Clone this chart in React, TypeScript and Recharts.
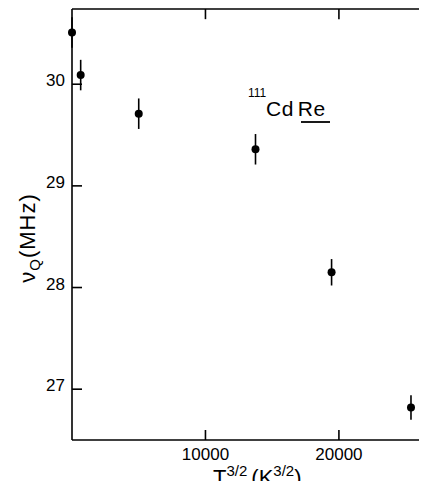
import { ScatterChart, Scatter, XAxis, YAxis, ErrorBar, ReferenceLine } from 'recharts'

const tempX = [0, 650, 5000, 13750, 19450, 25400]
const nuQ = [30.51, 30.09, 29.71, 29.36, 28.15, 26.82]
const nuErr = [0.15, 0.15, 0.15, 0.15, 0.13, 0.12]
const xTicks = [10000, 20000]
const yTicks = [27, 28, 29, 30]

const points = tempX.map((x, i) => ({ x, y: nuQ[i], err: nuErr[i] }))

const FONT = '"Liberation Sans", Arial, sans-serif'
const INK = '#000'
const X_MIN = 0
const X_MAX = 26600
const Y_MIN = 26.5
const Y_MAX = 30.74
const axisStroke = { stroke: INK, strokeWidth: 1.6 }

// inward tick marks, labels outside
function BottomTick({ x, y, payload }: any) {
  return (
    <g>
      <line x1={x} x2={x} y1={y} y2={y - 10} stroke={INK} strokeWidth={1.6} />
      <text x={x} y={y + 20} textAnchor="middle" fontSize={17} fontFamily={FONT} fill={INK}>
        {payload.value}
      </text>
    </g>
  )
}

function LeftTick({ x, y, payload }: any) {
  return (
    <g>
      <line x1={x} x2={x + 10} y1={y} y2={y} stroke={INK} strokeWidth={1.6} />
      <text x={x - 7} y={y + 2} textAnchor="end" fontSize={17} fontFamily={FONT} fill={INK}>
        {payload.value}
      </text>
    </g>
  )
}

function XTitle({ viewBox }: any) {
  return (
    <text x={viewBox.x + 141} y={viewBox.y + 45} fontSize={22} fontFamily={FONT} fill={INK}>
      T<tspan fontSize={15} dy={-9}>3/2</tspan>
      <tspan dy={9} dx={4}>(K</tspan>
      <tspan fontSize={15} dy={-9}>3/2</tspan>
      <tspan dy={9}>)</tspan>
    </text>
  )
}

function YTitle({ viewBox }: any) {
  const cx = viewBox.x + 27
  const cy = viewBox.y + 229
  return (
    <text
      transform={`translate(${cx}, ${cy}) rotate(-90)`}
      textAnchor="middle"
      fontSize={22}
      fontFamily={FONT}
      fill={INK}
      letterSpacing={1}
    >
      ν<tspan fontSize={15} dy={5}>Q</tspan>
      <tspan dy={-5}>(MHz)</tspan>
    </text>
  )
}

// sample name, hung off the top frame line
function SampleTag({ viewBox }: any) {
  const x0 = viewBox.x + 176
  const y0 = viewBox.y + 107
  return (
    <g>
      <text x={x0} y={y0 - 19} fontSize={12} fontFamily={FONT} fill={INK}>111</text>
      <text x={x0 + 18} y={y0} fontSize={21} fontFamily={FONT} fill={INK} letterSpacing={0.5}>
        Cd<tspan dx={4}>Re</tspan>
      </text>
      <line x1={x0 + 53} x2={x0 + 82} y1={y0 + 6} y2={y0 + 6} stroke={INK} strokeWidth={1.8} />
    </g>
  )
}

function Dot({ cx, cy }: any) {
  return <circle cx={cx} cy={cy} r={4} fill={INK} />
}

export default function App() {
  // chart stays in normal flow (body margin 8px); margins place the plot frame
  return (
    <div style={{ width: 419, height: 481, marginRight: -8, marginBottom: -8 }}>
      <ScatterChart width={419} height={481} margin={{ top: 1, right: 0, bottom: 0, left: 0 }}>
        <XAxis
          type="number"
          dataKey="x"
          domain={[X_MIN, X_MAX]}
          ticks={xTicks}
          height={49}
          tickSize={0}
          tickMargin={0}
          tickLine={false}
          tick={<BottomTick />}
          axisLine={axisStroke}
          label={{ content: <XTitle /> }}
        />
        <YAxis
          type="number"
          domain={[Y_MIN, Y_MAX]}
          ticks={yTicks}
          width={64}
          tickSize={0}
          tickMargin={0}
          tickLine={false}
          tick={<LeftTick />}
          axisLine={axisStroke}
          label={{ content: <YTitle /> }}
        />
        {/* top frame with inward ticks */}
        <ReferenceLine y={Y_MAX} stroke={INK} strokeWidth={1.6} label={{ content: <SampleTag /> }} />
        {xTicks.map((t) => (
          <ReferenceLine
            key={`t${t}`}
            segment={[{ x: t, y: Y_MAX }, { x: t, y: Y_MAX - 0.1 }]}
            stroke={INK}
            strokeWidth={1.6}
          />
        ))}
        {/* right edge: short inward ticks only */}
        {yTicks.map((t) => (
          <ReferenceLine
            key={`r${t}`}
            segment={[{ x: X_MAX, y: t }, { x: X_MAX - 250, y: t }]}
            stroke={INK}
            strokeWidth={1.6}
          />
        ))}
        <Scatter data={points} dataKey="y" shape={<Dot />} isAnimationActive={false}>
          <ErrorBar dataKey="err" direction="y" width={0} stroke={INK} strokeWidth={1.6} />
        </Scatter>
      </ScatterChart>
    </div>
  )
}
